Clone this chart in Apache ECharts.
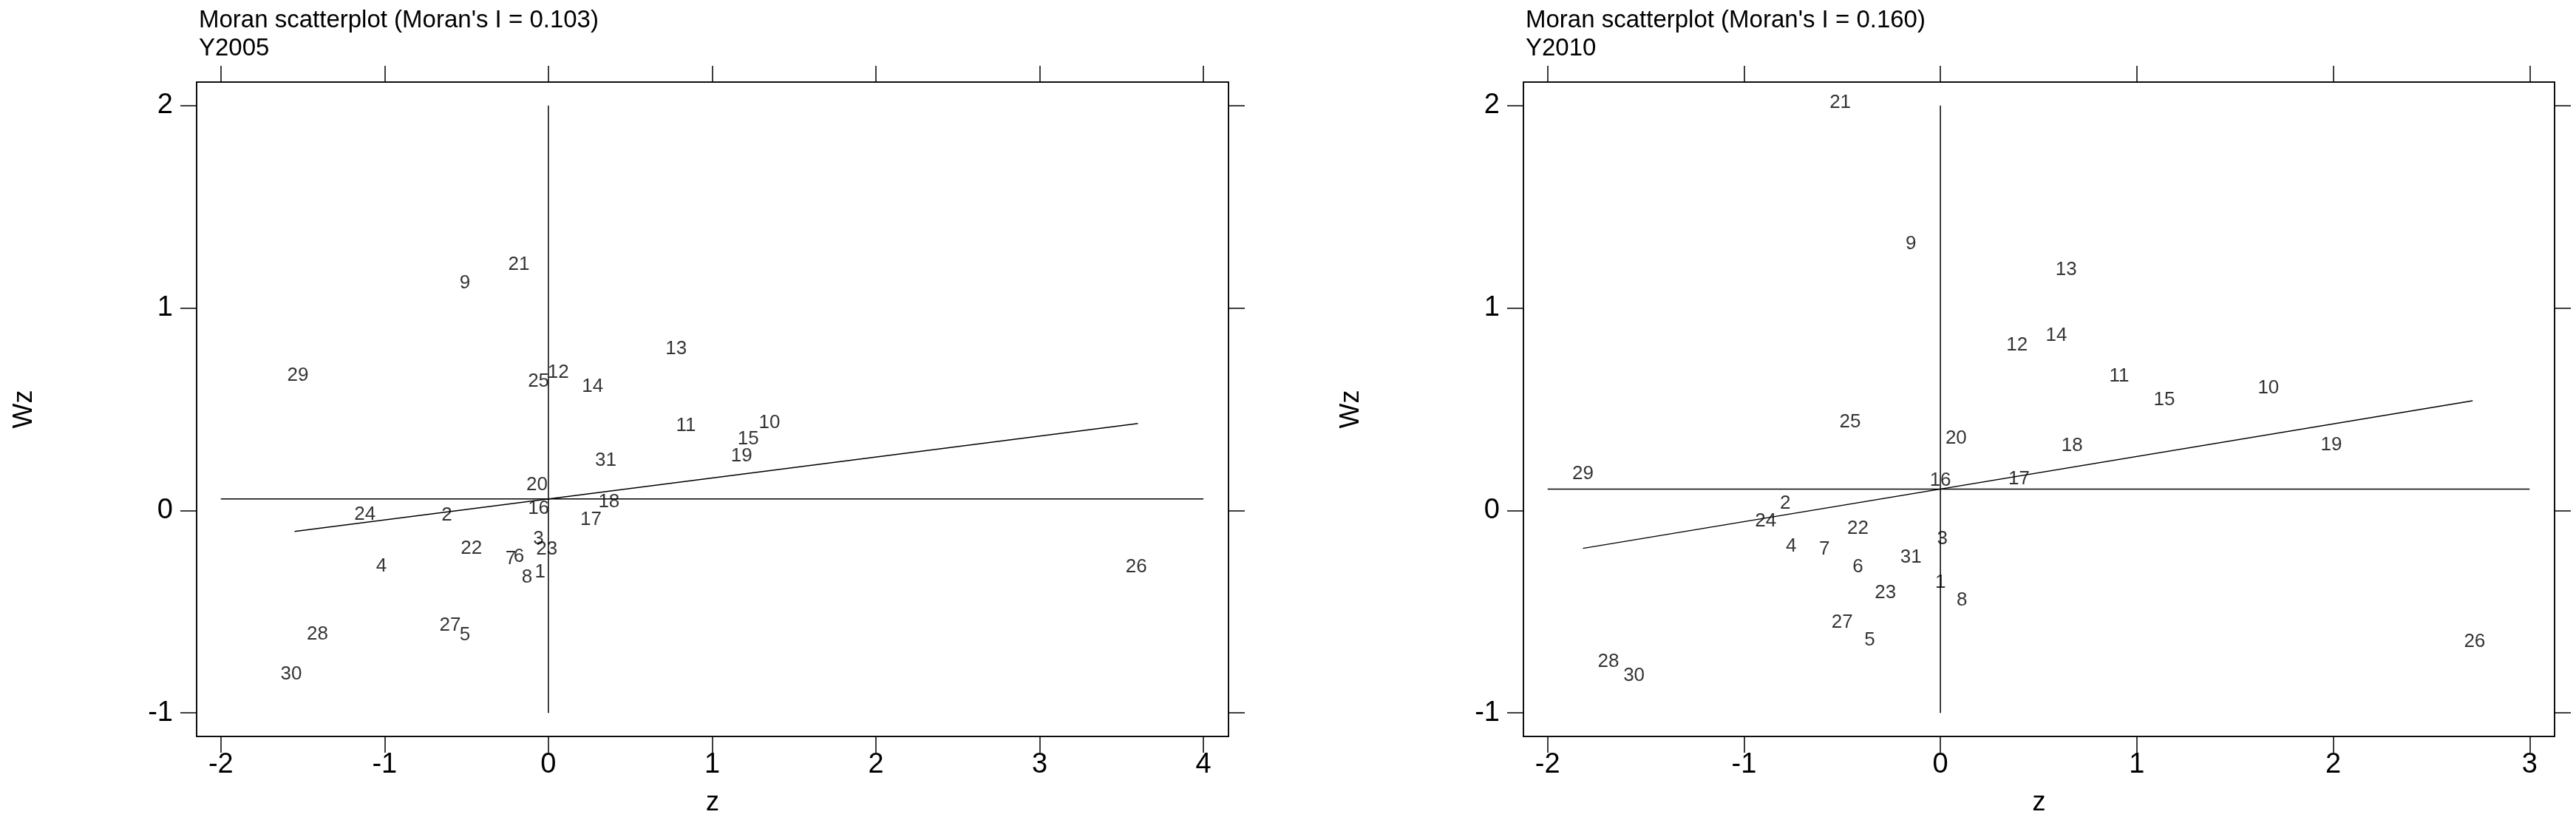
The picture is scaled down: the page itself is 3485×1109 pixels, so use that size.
<!DOCTYPE html>
<html><head><meta charset="utf-8">
<script src="https://cdn.jsdelivr.net/npm/echarts@6/dist/echarts.min.js"></script>
<style>html,body{margin:0;padding:0;background:#fff}#c{width:3485px;height:1109px}</style>
</head><body><div id="c"></div>
<script>
const ids2005 = ['21','9','29','13','12','25','14','11','10','15','19','31','20','18','16','17','24','2','3','23','22','7','6','4','1','8','26','27','5','28','30'];
const z2005  = [-0.18,-0.51,-1.53,0.78,0.06,-0.06,0.27,0.84,1.35,1.22,1.18,0.35,-0.07,0.37,-0.06,0.26,-1.12,-0.62,-0.06,-0.01,-0.47,-0.23,-0.18,-1.02,-0.05,-0.13,3.59,-0.60,-0.51,-1.41,-1.57];
const wz2005 = [1.215,1.125,0.667,0.80,0.68,0.636,0.613,0.42,0.433,0.353,0.268,0.247,0.126,0.041,0.01,-0.044,-0.018,-0.023,-0.139,-0.193,-0.188,-0.24,-0.229,-0.276,-0.304,-0.332,-0.278,-0.567,-0.615,-0.61,-0.809];
const ids2010 = ['21','9','13','14','12','11','10','15','25','20','18','19','29','16','17','2','24','22','3','4','7','31','6','1','23','8','27','5','26','28','30'];
const z2010  = [-0.51,-0.15,0.64,0.59,0.39,0.91,1.67,1.14,-0.46,0.08,0.67,1.99,-1.82,0.0,0.40,-0.79,-0.89,-0.42,0.01,-0.76,-0.59,-0.15,-0.42,0.0,-0.28,0.11,-0.50,-0.36,2.72,-1.69,-1.56];
const wz2010 = [2.016,1.316,1.19,0.863,0.816,0.664,0.605,0.546,0.435,0.355,0.319,0.322,0.18,0.149,0.155,0.036,-0.052,-0.088,-0.139,-0.178,-0.19,-0.232,-0.278,-0.355,-0.407,-0.443,-0.554,-0.639,-0.649,-0.747,-0.816];
const titles = ["Moran scatterplot (Moran's I = 0.103)\nY2005", "Moran scatterplot (Moran's I = 0.160)\nY2010"];
const meanWz = [0.057, 0.106];
const slope = [0.1035, 0.161];
const fitRange = [[-1.55, 3.6], [-1.82, 2.71]];
const xTicks = [[-2,-1,0,1,2,3,4], [-2,-1,0,1,2,3]];
const yTicks = [-1,0,1,2];
const xLim = [[-2.148,4.153],[-2.123,3.127]];
const yLim = [-1.116, 2.116];

const panels = [
  {ids:ids2005,z:z2005,wz:wz2005,left:266,width:1396},
  {ids:ids2010,z:z2010,wz:wz2010,left:2061,width:1395}
];
const FONT = 'Liberation Sans, Arial, sans-serif';
const grid=[],xAxis=[],yAxis=[],series=[],title=[];
panels.forEach((p,i)=>{
  grid.push({left:p.left,width:p.width,top:111,height:893,show:true,borderColor:'#000',borderWidth:1.5,backgroundColor:'transparent'});
  title.push({text:titles[i],left:p.left-2,top:4,textStyle:{fontFamily:FONT,fontWeight:'normal',fontSize:33,lineHeight:38,color:'#000'}});
  const tickX = {show:true,length:22,inside:false,lineStyle:{color:'#000',width:1.5},customValues:xTicks[i]};
  xAxis.push({gridIndex:i,type:'value',min:xLim[i][0],max:xLim[i][1],position:'bottom',
    name:'z',nameLocation:'middle',nameGap:72,nameTextStyle:{fontFamily:FONT,fontSize:36,color:'#000'},
    axisLine:{show:true,onZero:false,lineStyle:{color:'#000',width:1.5}},axisTick:tickX,
    axisLabel:{customValues:xTicks[i],fontFamily:FONT,fontSize:38,color:'#000',margin:20},splitLine:{show:false}});
  xAxis.push({gridIndex:i,type:'value',min:xLim[i][0],max:xLim[i][1],position:'top',
    axisLine:{show:true,onZero:false,lineStyle:{color:'#000',width:1.5}},axisTick:tickX,
    axisLabel:{show:false},splitLine:{show:false}});
  const tickY = {show:true,length:22,inside:false,lineStyle:{color:'#000',width:1.5},customValues:yTicks};
  yAxis.push({gridIndex:i,type:'value',min:yLim[0],max:yLim[1],position:'left',
    name:'Wz',nameLocation:'middle',nameGap:215,nameRotate:90,nameTextStyle:{fontFamily:FONT,fontSize:36,color:'#000'},
    axisLine:{show:true,onZero:false,lineStyle:{color:'#000',width:1.5}},axisTick:tickY,
    axisLabel:{customValues:yTicks,fontFamily:FONT,fontSize:38,color:'#000',margin:32},splitLine:{show:false}});
  yAxis.push({gridIndex:i,type:'value',min:yLim[0],max:yLim[1],position:'right',
    axisLine:{show:true,onZero:false,lineStyle:{color:'#000',width:1.5}},axisTick:tickY,
    axisLabel:{show:false},splitLine:{show:false}});
  const xi=i*2, yi=i*2;
  const ls={color:'#000',width:1.5};
  series.push({type:'line',xAxisIndex:xi,yAxisIndex:yi,data:[[xTicks[i][0],meanWz[i]],[xTicks[i][xTicks[i].length-1],meanWz[i]]],symbol:'none',lineStyle:ls,silent:true});
  series.push({type:'line',xAxisIndex:xi,yAxisIndex:yi,data:[[0,yTicks[0]],[0,yTicks[yTicks.length-1]]],symbol:'none',lineStyle:ls,silent:true});
  const f=fitRange[i];
  series.push({type:'line',xAxisIndex:xi,yAxisIndex:yi,data:f.map(x=>[x,meanWz[i]+slope[i]*x]),symbol:'none',lineStyle:ls,silent:true});
  series.push({type:'scatter',xAxisIndex:xi,yAxisIndex:yi,symbolSize:1,itemStyle:{color:'rgba(0,0,0,0)'},
    data:p.z.map((v,k)=>({value:[v,p.wz[k]],name:p.ids[k]})),
    label:{show:true,position:'inside',formatter:d=>d.name,fontFamily:FONT,fontSize:26,color:'#000'}});
});
const chart=echarts.init(document.getElementById('c'));
chart.setOption({animation:false,backgroundColor:'#fff',title,grid,xAxis,yAxis,series});
</script></body></html>
